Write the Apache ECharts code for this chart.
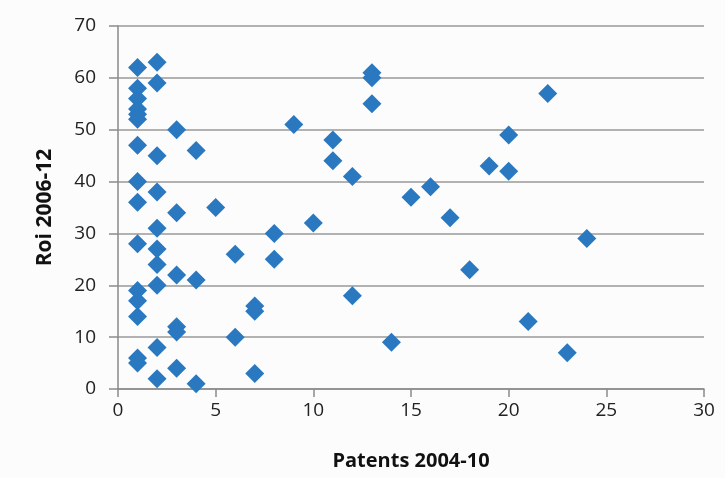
<!DOCTYPE html>
<html>
<head>
<meta charset="utf-8">
<script src="https://cdn.jsdelivr.net/npm/echarts@6/dist/echarts.min.js"></script>
<style>html,body{margin:0;padding:0;background:#fcfcfc;}#c{width:725px;height:478px;}</style>
</head>
<body>
<div id="c"></div>
<script>
var patents = [1,1,1,1,1,1,1,1,1,1,1,1,1,1,1,
  2,2,2,2,2,2,2,2,2,2,
  3,3,3,3,3,3,
  4,4,4,
  5,6,6,7,7,7,8,8,9,10,11,11,12,12,13,13,13,14,15,16,17,18,19,20,20,21,22,23,24];
var roi = [62,58,56,54,53,52,47,40,36,28,19,17,14,6,5,
  63,59,45,38,31,27,24,20,8,2,
  50,34,22,12,11,4,
  46,21,1,
  35,26,10,16,15,3,30,25,51,32,48,44,41,18,61,60,55,9,37,39,33,23,43,49,42,13,57,7,29];
var xTicks = [0,5,10,15,20,25,30];
var yTicks = [0,10,20,30,40,50,60,70];

var points = patents.map(function(p,i){return [p, roi[i]];});
var chart = echarts.init(document.getElementById('c'));
var font = 'Open Sans';
chart.setOption({
  backgroundColor: '#fcfcfc',
  animation: false,
  grid: {left: 118, right: 21, top: 26, bottom: 89},
  xAxis: {
    type: 'value', min: xTicks[0], max: xTicks[xTicks.length-1], interval: 5,
    name: 'Patents 2004-10', nameLocation: 'middle', nameGap: 62,
    nameTextStyle: {fontFamily: font, fontSize: 20, fontWeight: 'bold', color: '#111'},
    axisLine: {show: true, lineStyle: {color: '#8a8a8a', width: 1.5}},
    axisTick: {show: true, length: 8, lineStyle: {color: '#8a8a8a', width: 1.5}},
    axisLabel: {fontFamily: font, fontSize: 19, color: '#222', margin: 12},
    splitLine: {show: false}
  },
  yAxis: {
    type: 'value', min: yTicks[0], max: yTicks[yTicks.length-1], interval: 10,
    name: 'Roi 2006-12', nameLocation: 'middle', nameGap: 62,
    nameTextStyle: {fontFamily: font, fontSize: 21, fontWeight: 'bold', color: '#111'},
    axisLine: {show: true, lineStyle: {color: '#8a8a8a', width: 1.5}},
    axisTick: {show: true, length: 9, lineStyle: {color: '#8a8a8a', width: 1.5}},
    axisLabel: {fontFamily: font, fontSize: 19, color: '#222', margin: 22},
    splitLine: {show: true, lineStyle: {color: '#9a9a9a', width: 1.5}}
  },
  series: [{
    type: 'scatter',
    data: points,
    symbol: 'diamond',
    symbolSize: 19,
    itemStyle: {color: '#2a78c0', opacity: 1}
  }]
});
</script>
</body>
</html>
